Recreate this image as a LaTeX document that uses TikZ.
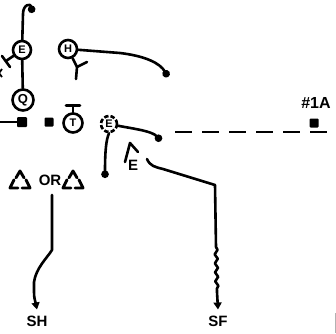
\documentclass[tikz,border=0pt]{standalone}
\usepackage{fontspec}
\setmainfont{Liberation Sans}
\usetikzlibrary{arrows.meta,decorations.pathmorphing}

\begin{document}
\begin{tikzpicture}[x=1pt,y=-1pt,
  route/.style={line width=2.6pt, line cap=round, line join=round},
  player/.style={circle, draw, line width=2.6pt, minimum size=18pt, inner sep=0pt,
                 font=\bfseries\fontsize{11}{11}\selectfont},
  blocksq/.style={fill, minimum size=9pt, inner sep=0pt, rounded corners=1pt},
  lbl/.style={font=\bfseries\fontsize{15}{15}\selectfont, inner sep=0pt},
  blob/.style={-{Circle[length=7.5pt,width=7.5pt]}},
  tip/.style={-{Triangle[length=7pt,width=8pt]}},
  brtri/.pic={
    \draw[route, line width=2.9pt] (-4,-2.2) -- (0,-9) -- (4,-2.2);
    \draw[route, line width=2.9pt] (-6,-0.2) -- (-10,8) -- (-2,8);
    \draw[route, line width=2.9pt] (6,-0.2) -- (10,8) -- (2,8);
  }
]
\useasboundingbox (0,0) rectangle (336,333);

% players
\node[player] (E1) at (22,50) {E};
\node[player] (H) at (68,49) {H};
\node[player, minimum size=21pt, font=\bfseries\fontsize{13}{13}\selectfont] (Q) at (23,100) {Q};
\node[player, minimum size=19pt] (T) at (73,123) {T};
\node[player, minimum size=16pt, dash pattern=on 4.5pt off 2pt] (E2) at (109,124) {E};

% linemen squares
\node[blocksq, minimum size=10pt] (C) at (22,122) {};
\node[blocksq] (G) at (49,122) {};
\node[blocksq] (A1) at (314,123) {};
\node[lbl, font=\bfseries\fontsize{16}{16}\selectfont] (lab1A) at (316,103) {\#1A};

% end with caret
\coordinate (cl) at (125,162);
\coordinate (ca) at (130,143);
\coordinate (cr) at (138,152);
\draw[route] (cl) -- (ca) -- (cr);
\node[lbl] (DE) at (133,165) {E};

% E hook
\coordinate (hook) at (32,13);
\draw[route, blob] (E1) -- (23,14) .. controls (23,4) and (31,3) .. (hook);

% E block to the left, with a cross mark at the edge
\coordinate (eblk) at (6,61);
\coordinate (ebar1) at (2,56);
\coordinate (ebar2) at (10,67);
\draw[route] (E1) -- (eblk);
\draw[route] (ebar1) -- (ebar2);
\coordinate (xm1) at (-4,69);
\coordinate (xm2) at (2,77);
\coordinate (xm3) at (-4,77);
\coordinate (xm4) at (2,69);
\draw[line width=1.8pt] (xm1) -- (xm2) (xm3) -- (xm4);

% E to Q
\draw[route] (E1) -- (Q);

% line into center
\coordinate (cleft) at (0,122);
\draw[route] (cleft) -- (C);

% T bar
\draw[route] (T.north) -- ++(0,-7) coordinate (ttop);
\draw[route] ([xshift=-7pt]ttop) -- ([xshift=7pt]ttop);

% H route and block
\coordinate (hend) at (168,77);
\draw[route, blob] (H) -- (120,53) .. controls (145,56) and (160,63) .. (hend);
\coordinate (hy) at (77,67);
\coordinate (hy1) at (76,79);
\coordinate (hy2) at (87,62);
\draw[route] (H) -- (hy) -- (hy1);
\draw[route] (hy) -- (hy2);

% tight end routes
\coordinate (e2r) at (161,141);
\draw[route, blob] (E2) .. controls (135,129) and (152,131) .. (e2r);
\coordinate (e2d) at (105,178);
\draw[route, blob] (E2.south) .. controls (106,140) and (105,152) .. (e2d);

% dashed line
\coordinate (dstart) at (175,132);
\coordinate (dend) at (336,132);
\draw[line width=2.5pt, dash pattern=on 17pt off 10pt] (dstart) -- (dend);

% SF route
\node[lbl] (SF) at (218,321) {SF};
\coordinate (sfstart) at (147,159);
\draw[route, tip] (sfstart) .. controls (150,166) and (155,167) .. (163,169) -- (215,185) -- (216,247)
  decorate[decoration={snake,amplitude=1.5pt,segment length=9pt}] {-- (217,292)}
  -- ([yshift=6pt]SF.north);

% backs
\pic at (20,180) {brtri};
\pic at (73,180) {brtri};
\node[lbl] (OR) at (50,180) {OR};

% SH route
\node[lbl] (SH) at (37,321) {SH};
\coordinate (shtop) at (52,195);
\draw[route, tip] (shtop) -- (52,250) .. controls (47,258) and (36,268) .. (34,282)
  -- (34,292) .. controls (34,298) and (35,300) .. ([yshift=6pt]SH.north);

% edge mark
\draw[gray!60, line width=0.6pt] (335.5,313) -- (335.5,333);
\end{tikzpicture}
\end{document}
